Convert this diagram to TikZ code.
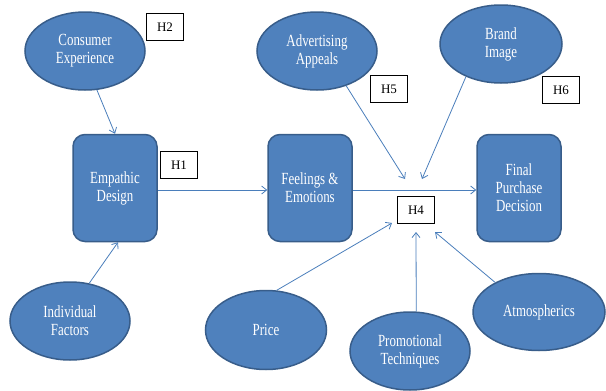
\documentclass[tikz,border=0pt]{standalone}
\usepackage{fontspec}
\setmainfont{Liberation Serif}
\newfontfamily\nodefont[FakeStretch=0.76]{Liberation Serif}
\usetikzlibrary{shapes.geometric,arrows.meta}
\definecolor{fillblue}{HTML}{4F81BD}
\definecolor{edgeblue}{HTML}{385D8A}
\definecolor{linkblue}{HTML}{4A7EBB}
\begin{document}
\begin{tikzpicture}[x=1pt,y=-1pt,
 ell/.style={ellipse,draw=edgeblue,line width=1.5pt,fill=fillblue,text=white,
   font=\nodefont\fontsize{17}{18}\selectfont,align=center,inner sep=0pt,
   minimum width=120pt,minimum height=78pt},
 rbox/.style={rectangle,rounded corners=12pt,draw=edgeblue,line width=1.5pt,fill=fillblue,text=white,
   font=\nodefont\fontsize{17}{18}\selectfont,align=center,inner sep=0pt,
   minimum width=84pt,minimum height=107pt},
 hlab/.style={rectangle,draw=black,line width=0.8pt,fill=white,
   font=\fontsize{13}{15}\selectfont,minimum width=37pt,minimum height=27pt,inner sep=0pt},
 arr/.style={draw=linkblue,line width=0.8pt,-{Straight Barb[length=5pt,width=8pt]}}
]
\useasboundingbox (0,0) rectangle (606,391);

% ellipses
\node[ell] (ce) at (85,51) {Consumer\\Experience};
\node[ell] (aa) at (317,51) {Advertising\\Appeals};
\node[ell,minimum width=122pt] (bi) at (501,44) {Brand\\Image};
\node[ell] (if) at (70,321) {Individual\\Factors};
\node[ell,minimum width=121pt,minimum height=79pt] (pr) at (266,330) {Price};
\node[ell] (pt) at (410,351) {Promotional\\Techniques};
\node[ell,minimum width=132pt,minimum height=77pt] (at) at (539,312) {Atmospherics};

% rounded boxes
\node[rbox] (ed) at (115,188) {Empathic\\Design};
\node[rbox] (fe) at (310,188) {Feelings \&\\Emotions};
\node[rbox] (fp) at (519,188) {Final\\Purchase\\Decision};

% hypothesis labels
\node[hlab] (h2) at (165,27) {H2};
\node[hlab] (h1) at (179,165) {H1};
\node[hlab] (h5) at (389,89) {H5};
\node[hlab] (h6) at (561,90) {H6};
\node[hlab] (h4) at (416,210) {H4};

% free ends near H4
\coordinate (t5) at (405,179);
\coordinate (t6) at (422,179);
\coordinate (tp) at (392,223);
\coordinate (tt) at (416,232);
\coordinate (ta) at (435,232);

% connectors
\draw[arr] (ce.-73) -- (ed.north);
\draw[arr] (if.63) -- ([xshift=3pt]ed.south);
\draw[arr] ([yshift=-2pt]ed.east) -- ([yshift=-2pt]fe.west);
\draw[arr] ([yshift=-2pt]fe.east) -- ([yshift=-2pt]fp.west);
\draw[arr] (aa.-50) -- (t5);
\draw[arr] (bi.223) -- (t6);
\draw[arr] (pr.75) -- (tp);
\draw[arr] (pt.81) -- (tt);
\draw[arr] (at.146) -- (ta);
\end{tikzpicture}
\end{document}
